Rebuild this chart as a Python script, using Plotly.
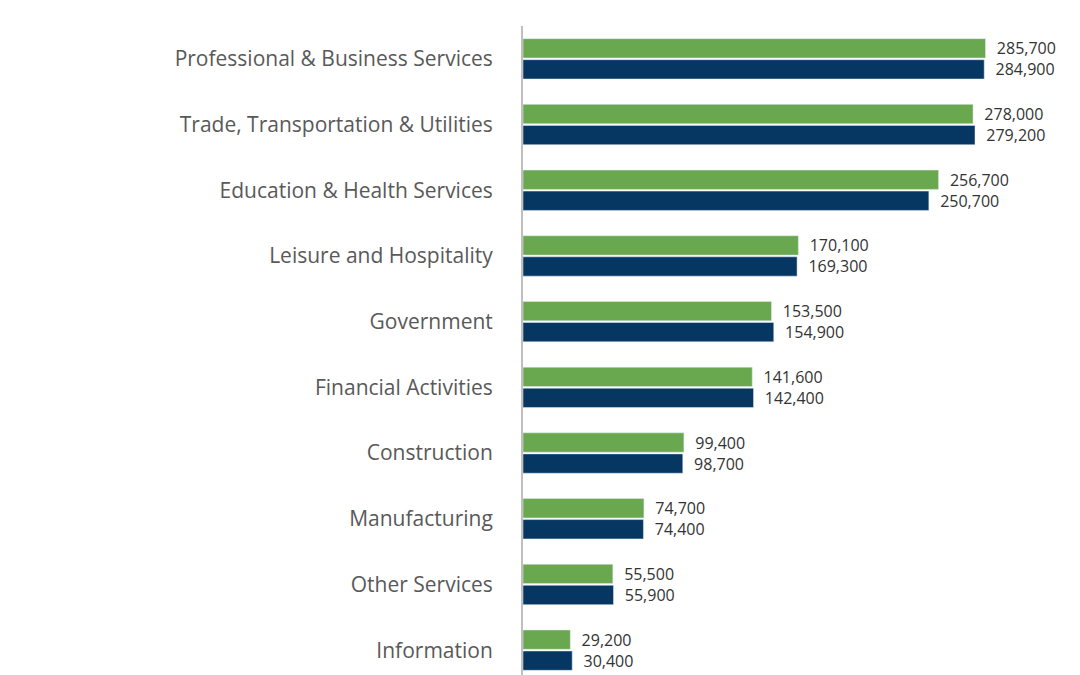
import plotly.graph_objects as go

# Industries, top to bottom
categories = ["Professional & Business Services", "Trade, Transportation & Utilities",
              "Education & Health Services", "Leisure and Hospitality", "Government",
              "Financial Activities", "Construction", "Manufacturing",
              "Other Services", "Information"]
green_vals = [285700, 278000, 256700, 170100, 153500, 141600, 99400, 74700, 55500, 29200]
navy_vals = [284900, 279200, 250700, 169300, 154900, 142400, 98700, 74400, 55900, 30400]

fig = go.Figure()
for vals, col in [(green_vals, "#6AA84F"), (navy_vals, "#063763")]:
    fig.add_trace(go.Bar(
        y=categories, x=vals, orientation="h", marker_color=col,
        text=[f"  {v:,}" for v in vals], textposition="outside",
        constraintext="none",
        textfont=dict(size=16, color="#333333", family="Open Sans"),
        cliponaxis=False,
    ))

fig.update_layout(
    width=1080, height=675,
    margin=dict(l=515, r=0, t=18, b=0),
    barmode="group", bargap=0.36, bargroupgap=0.08,
    plot_bgcolor="white", paper_bgcolor="white",
    showlegend=False,
    font=dict(family="Open Sans"),
)
fig.update_xaxes(range=[0, 349000], visible=False)
fig.update_yaxes(autorange="reversed", showline=True, linecolor="#BFBFBF", linewidth=2,
                 automargin=False,
                 tickfont=dict(size=21, color="#595959"), ticks="", ticklabelstandoff=24)

fig.write_html("out.html")
